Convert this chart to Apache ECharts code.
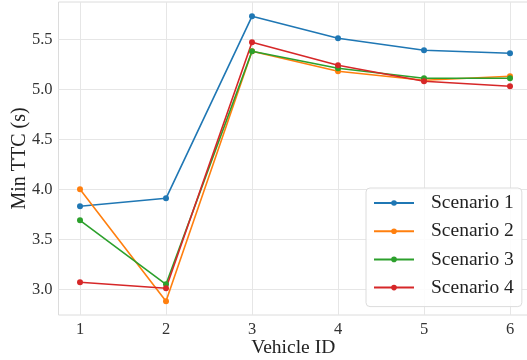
<!DOCTYPE html>
<html><head><meta charset="utf-8">
<script src="https://cdn.jsdelivr.net/npm/echarts@6/dist/echarts.min.js"></script>
<style>html,body{margin:0;padding:0;background:#fff}#c{width:527px;height:360px}</style>
</head><body><div id="c"></div>
<script>
const vehicleIds = [1, 2, 3, 4, 5, 6];
const scenario1 = [3.83, 3.91, 5.73, 5.51, 5.39, 5.36];
const scenario2 = [4.00, 2.88, 5.38, 5.18, 5.09, 5.13];
const scenario3 = [3.69, 3.05, 5.38, 5.21, 5.11, 5.11];
const scenario4 = [3.07, 3.01, 5.47, 5.24, 5.08, 5.03];
const seriesNames = ['Scenario 1', 'Scenario 2', 'Scenario 3', 'Scenario 4'];
const colors = ['#1f77b4', '#ff7f0e', '#2ca02c', '#d62728'];
const yTicks = [3.0, 3.5, 4.0, 4.5, 5.0, 5.5];

const font = '"Liberation Serif", "DejaVu Serif", serif';
const allData = [scenario1, scenario2, scenario3, scenario4];
const chart = echarts.init(document.getElementById('c'), null, {renderer: 'canvas'});
chart.setOption({
  animation: false,
  backgroundColor: '#fff',
  grid: {left: 58.5, right: -1, top: 2, bottom: 45, show: true, borderColor: '#dcdcdc', borderWidth: 1,
         containLabel: false, outerBoundsMode: 'none'},
  xAxis: {
    type: 'value', min: 0.75, max: 6 + 18 / 86,
    name: 'Vehicle ID', nameLocation: 'middle', nameGap: 23, nameMoveOverlap: false,
    nameTextStyle: {fontFamily: font, fontSize: 19.5, color: '#222'},
    axisLine: {show: false},
    axisTick: {show: false, customValues: vehicleIds},
    axisLabel: {customValues: vehicleIds, fontFamily: font, fontSize: 16.5, color: '#333', margin: 6},
    splitLine: {show: true, lineStyle: {color: '#e6e6e6', width: 1}}
  },
  yAxis: {
    type: 'value', min: 2.743, max: 5.873,
    name: 'Min TTC (s)', nameLocation: 'middle', nameGap: 29, nameMoveOverlap: false,
    nameTextStyle: {fontFamily: font, fontSize: 20, color: '#222'},
    axisLine: {show: false},
    axisTick: {show: false, customValues: yTicks},
    axisLabel: {customValues: yTicks, formatter: v => v.toFixed(1), fontFamily: font, fontSize: 16.5, color: '#333', margin: 6},
    splitLine: {show: true, lineStyle: {color: '#e6e6e6', width: 1}}
  },
  legend: {
    left: 366, top: 188, orient: 'vertical',
    data: seriesNames,
    itemWidth: 40, itemHeight: 7, itemGap: 8.2,
    padding: [5, 8, 9, 7],
    borderColor: '#dcdcdc', borderWidth: 1, borderRadius: 4,
    backgroundColor: 'rgba(255,255,255,0.85)',
    textStyle: {fontFamily: font, fontSize: 19.5, color: '#222', padding: [0, 0, 0, 12], lineHeight: 20},
    z: 10
  },
  series: allData.map((d, i) => ({
    name: seriesNames[i], type: 'line',
    data: d.map((v, j) => [vehicleIds[j], v]),
    symbol: 'circle', symbolSize: 6,
    lineStyle: {color: colors[i], width: 1.6},
    itemStyle: {color: colors[i]},
    clip: false
  }))
});
</script></body></html>
